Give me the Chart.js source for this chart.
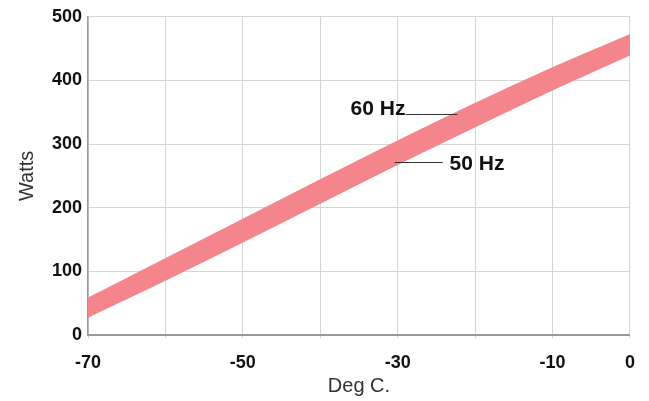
<!DOCTYPE html>
<html>
<head>
<meta charset="utf-8">
<script src="https://cdn.jsdelivr.net/npm/chart.js@4/dist/chart.umd.min.js"></script>
<style>
  html, body { margin: 0; padding: 0; background: #fff; }
  #wrap { width: 649px; height: 401px; }
</style>
</head>
<body>
<div id="wrap"><canvas id="chart"></canvas></div>
<script>
// values
const temps   = [-70, -60, -50, -40, -30, -20, -10, 0];
const watts60 = [58, 120, 182, 244, 305, 364, 420, 472];
const watts50 = [28, 86, 146, 207, 268, 327, 385, 440];
const xTickLabels = [-70, -50, -30, -10, 0];
const yTickLabels = [0, 100, 200, 300, 400, 500];

// callouts: label + leader line, in data units (deg C, watts)
const callouts = [
    { text: '60 Hz', x1: -29.0, x2: -22.3, y: 348, align: 'right' },
    { text: '50 Hz', x1: -30.4, x2: -24.2, y: 272, align: 'left' }
];

const BAND = 'rgb(245,133,140)';
const FONT = "'Liberation Sans', Arial, sans-serif";

const calloutPlugin = {
    id: 'callouts',
    afterDatasetsDraw(chart) {
        const { ctx, scales: { x, y } } = chart;
        ctx.save();
        ctx.strokeStyle = '#333';
        ctx.lineWidth = 1;
        ctx.fillStyle = '#111';
        ctx.font = 'bold 21px ' + FONT;
        ctx.textBaseline = 'middle';
        callouts.forEach(c => {
            const px1 = x.getPixelForValue(c.x1);
            const px2 = x.getPixelForValue(c.x2);
            const py = Math.round(y.getPixelForValue(c.y)) + 0.5;
            ctx.beginPath();
            ctx.moveTo(px1, py);
            ctx.lineTo(px2, py);
            ctx.stroke();
            if (c.align === 'right') {
                ctx.textAlign = 'right';
                ctx.fillText(c.text, px1, py - 5);
            } else {
                ctx.textAlign = 'left';
                ctx.fillText(c.text, px2 + 7, py + 2);
            }
        });
        ctx.restore();
    }
};

new Chart(document.getElementById('chart'), {
    type: 'line',
    data: {
        labels: temps,
        datasets: [
            {
                label: '60 Hz',
                data: temps.map((t, i) => ({ x: t, y: watts60[i] })),
                borderColor: BAND,
                borderWidth: 1,
                backgroundColor: BAND,
                fill: '+1',
                pointRadius: 0,
                tension: 0.3
            },
            {
                label: '50 Hz',
                data: temps.map((t, i) => ({ x: t, y: watts50[i] })),
                borderColor: BAND,
                borderWidth: 1,
                backgroundColor: BAND,
                fill: false,
                pointRadius: 0,
                tension: 0.3
            }
        ]
    },
    options: {
        responsive: true,
        maintainAspectRatio: false,
        animation: false,
        layout: { padding: { top: 15, right: 18, bottom: 0, left: 0 } },
        plugins: {
            legend: { display: false },
            tooltip: { enabled: false }
        },
        scales: {
            x: {
                type: 'linear',
                min: -70, max: 0,
                afterFit: s => { s.height = 66; },
                grid: { color: '#d6d6d6', lineWidth: 1, drawTicks: true, tickLength: 3 },
                border: { color: '#9a9a9a', width: 2 },
                ticks: {
                    stepSize: 10,
                    padding: 14,
                    color: '#111',
                    font: { family: FONT, size: 18, weight: 'bold' },
                    callback: v => xTickLabels.includes(v) ? String(v) : ''
                },
                title: {
                    display: true,
                    text: 'Deg C.',
                    color: '#333',
                    font: { family: FONT, size: 20 },
                    padding: { top: 0, bottom: 3 }
                }
            },
            y: {
                min: 0, max: 500,
                afterFit: s => { s.width = 88; },
                grid: { color: '#d6d6d6', lineWidth: 1, drawTicks: false },
                border: { color: '#9a9a9a', width: 1.5 },
                ticks: {
                    stepSize: 100,
                    padding: 6,
                    color: '#111',
                    font: { family: FONT, size: 18, weight: 'bold' },
                    callback: v => yTickLabels.includes(v) ? String(v) : ''
                },
                title: {
                    display: true,
                    text: 'Watts',
                    color: '#333',
                    font: { family: FONT, size: 20 },
                    padding: { top: 15, bottom: 0 }
                }
            }
        }
    },
    plugins: [calloutPlugin]
});
</script>
</body>
</html>
